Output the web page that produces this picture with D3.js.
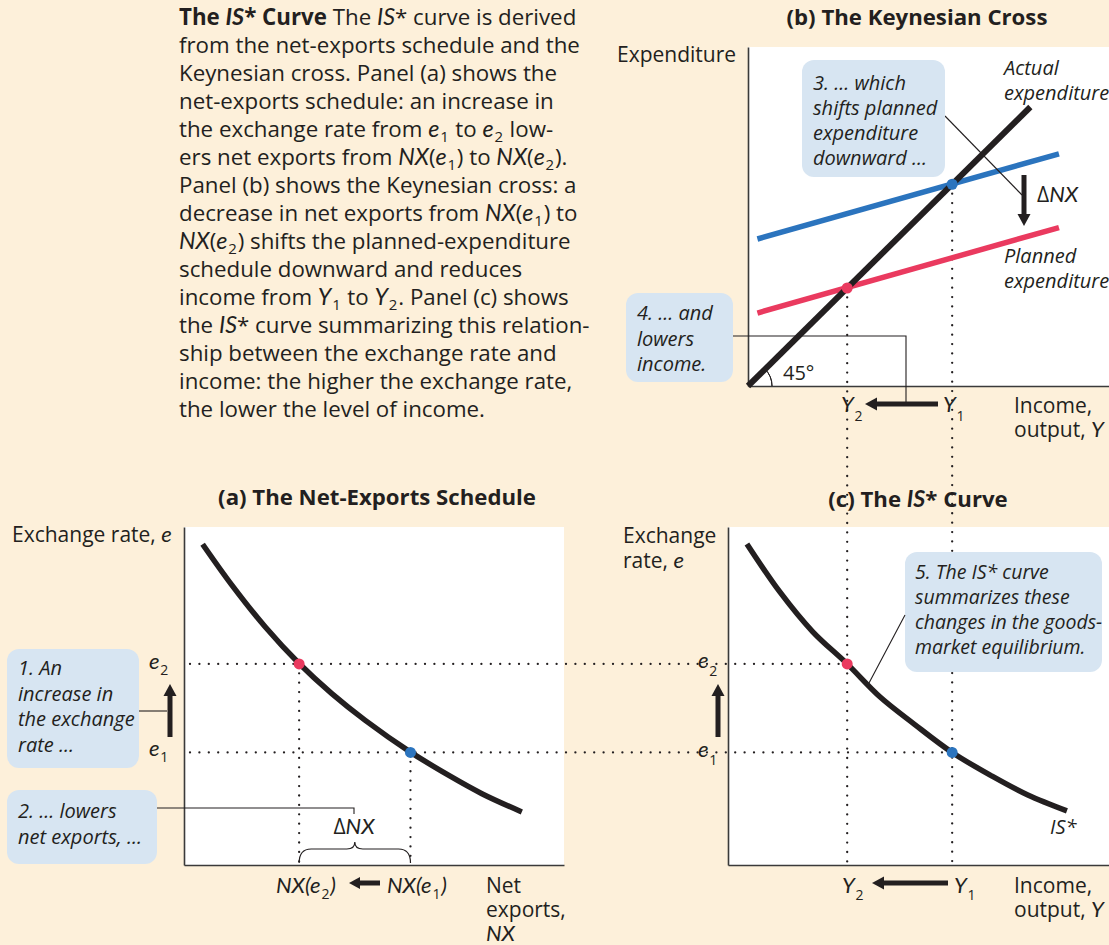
<!DOCTYPE html>
<html><head><meta charset="utf-8">
<script src="https://cdn.jsdelivr.net/npm/d3@7"></script>
<style>
body{margin:0;background:#fdf0da;}
svg{display:block;}
text{font-family:"Open Sans",sans-serif;fill:#231f20;}
</style></head><body>
<svg id="c" width="1109" height="945"></svg>
<script>
// ---------------- DATA ----------------
const e1 = 33.3, e2 = 59.5;      // exchange rates (a, c)
const nx1 = 59.6, nx2 = 30.3;    // net exports NX(e1), NX(e2)
const y1 = 56.4, y2 = 27.4;      // income Y1, Y2
// (a) net-exports schedule: [NX, e]
const nxSchedule = [[4.9,94.9],[12.6,82.8],[21.4,70.4],[30.3,59.6],[38.9,50.7],[47.7,42.8],[59.6,33.4],[69.7,26.5],[78.4,21.1],[88.9,15.7]];
// (c) IS* curve: [Y, e]
const isCurve = [[-0.3,95.0],[8.8,80.8],[17.9,69.0],[27.4,59.5],[36.5,49.7],[45.9,41.7],[56.4,33.3],[67.4,26.3],[77.3,20.7],[88.1,16.0]];
// (b) Keynesian cross: [Y, E]
const actualExp = [[0,0],[78,78]];
const plannedHigh = [[2.6,41.1],[85.9,64.9]];
const plannedLow = [[2.6,20.4],[85.9,44.3]];

const titles = {a:"(a) The Net-Exports Schedule", b:"(b) The Keynesian Cross"};
const captionLines = [
  [["The ","b"],["IS","bi"],["* Curve","b"],[" The ",""],["IS","i"],["* curve is derived",""]],
  [["from the net-exports schedule and the",""]],
  [["Keynesian cross. Panel (a) shows the",""]],
  [["net-exports schedule: an increase in",""]],
  [["the exchange rate from ",""],["e","i"],["1","s"],[" to ",""],["e","i"],["2","s"],[" low-",""]],
  [["ers net exports from ",""],["NX","i"],["(",""],["e","i"],["1","s"],[") to ",""],["NX","i"],["(",""],["e","i"],["2","s"],[").",""]],
  [["Panel (b) shows the Keynesian cross: a",""]],
  [["decrease in net exports from ",""],["NX","i"],["(",""],["e","i"],["1","s"],[") to",""]],
  [["NX","i"],["(",""],["e","i"],["2","s"],[") shifts the planned-expenditure",""]],
  [["schedule downward and reduces",""]],
  [["income from ",""],["Y","i"],["1","s"],[" to ",""],["Y","i"],["2","s"],[". Panel (c) shows",""]],
  [["the ",""],["IS","i"],["* curve summarizing this relation-",""]],
  [["ship between the exchange rate and",""]],
  [["income: the higher the exchange rate,",""]],
  [["the lower the level of income.",""]]
];
const box1 = ["1. An","increase in","the exchange","rate ..."];
const box2 = ["2. ... lowers","net exports, ..."];
const box3 = ["3. ... which","shifts planned","expenditure","downward ..."];
const box4 = ["4. ... and","lowers","income."];
const box5 = ["5. The IS* curve","summarizes these","changes in the goods-","market equilibrium."];

// ---------------- SCALES ----------------
const xA = d3.scaleLinear([0,100],[184,564]);     // net exports (a)
const yE = d3.scaleLinear([0,100],[865,527]);     // exchange rate (a, c)
const xY = d3.scaleLinear([0,100],[748,1110]);    // income (b, c)
const yB = d3.scaleLinear([0,100],[386,28.3]);    // expenditure (b)

const INK = "#231f20", RED = "#ea3a5f", BLUE = "#2b74be", BOX = "#d7e5f2";
const svg = d3.select("#c");
svg.append("rect").attr("width",1109).attr("height",945).attr("fill","#fdf0da");

// white plot areas
svg.append("rect").attr("x",xA(0)).attr("y",yE(100)).attr("width",xA(100)-xA(0)).attr("height",yE(0)-yE(100)).attr("fill","#fff");
svg.append("rect").attr("x",xY(0)).attr("y",47).attr("width",1109-xY(0)).attr("height",yB(0)-47).attr("fill","#fff");
svg.append("rect").attr("x",728).attr("y",yE(100)).attr("width",1109-728).attr("height",yE(0)-yE(100)).attr("fill","#fff");

// rich text helper
function rich(g, x, y, segs, o={}) {
  const size = o.size||21;
  const t = g.append("text").attr("x",x).attr("y",y).attr("font-size",size);
  if (o.anchor) t.attr("text-anchor",o.anchor);
  if (o.weight) t.attr("font-weight",o.weight);
  let shift = 0, prevSub = false;
  segs.forEach(([s,st]) => {
    const ts = t.append("tspan").text(s);
    const isSub = st.includes("s");
    const target = isSub ? (o.subDy||5) : 0;
    if (target !== shift) { ts.attr("dy", target-shift); shift = target; }
    if (isSub) ts.attr("dx", (o.subDx||0) + 0.8);
    else if (prevSub) ts.attr("dx", 0.8);
    prevSub = isSub;
    if (st.includes("b")) ts.attr("font-weight",700);
    if (st.includes("i")) ts.attr("font-style","italic").attr("font-family","Lato, sans-serif").attr("font-size", size+1);
    if (isSub) ts.attr("font-size", o.subSize||14);
  });
  return t;
}
function lines(g, x, y0, arr, step, o={}) {
  arr.forEach((s,i)=>{
    g.append("text").attr("x",x).attr("y",y0+i*step).text(s)
      .attr("font-family",o.family||"Lato, sans-serif").attr("font-style",o.style||"italic")
      .attr("font-size",o.size||20);
  });
}
function arrow(x1,y1,x2,y2,w=5,hl=12,hw=13){
  const a = Math.atan2(y2-y1,x2-x1), c=Math.cos(a), s=Math.sin(a);
  const bx = x2-c*hl, by = y2-s*hl;
  svg.append("line").attr("x1",x1).attr("y1",y1).attr("x2",bx+c*1).attr("y2",by+s*1)
    .attr("stroke",INK).attr("stroke-width",w);
  svg.append("path").attr("d",`M${x2},${y2}L${bx-s*hw/2},${by+c*hw/2}L${bx+s*hw/2},${by-c*hw/2}Z`).attr("fill",INK);
}
function conn(pts){
  svg.append("path").attr("d",d3.line()(pts)).attr("fill","none").attr("stroke",INK).attr("stroke-width",1.1);
}
function box(x,y,w,h){ svg.append("rect").attr("x",x).attr("y",y).attr("width",w).attr("height",h).attr("rx",12).attr("fill",BOX); }

// ---------------- CAPTION ----------------
const cap = svg.append("g");
captionLines.forEach((segs,i)=> rich(cap, 179, 25+i*28, segs, {size:22.3, subSize:15}));

// ---------------- TITLES ----------------
rich(svg, 917, 25, [[titles.b,""]], {anchor:"middle", weight:700, size:22.2});
rich(svg, 377, 505, [[titles.a,""]], {anchor:"middle", weight:700, size:22.2});
rich(svg, 918, 507, [["(c) The ","b"],["IS","bi"],["* Curve","b"]], {anchor:"middle", weight:700, size:22.2});

// ---------------- AXES ----------------
function styleAxis(g){ g.select(".domain").attr("stroke","#3a3a3a").attr("stroke-width",1.6); }
svg.append("g").attr("transform",`translate(0,${yE(0)})`).call(d3.axisBottom(xA).tickValues([]).tickSizeOuter(0)).call(styleAxis);
svg.append("g").attr("transform",`translate(${xA(0)},0)`).call(d3.axisLeft(yE).tickValues([]).tickSizeOuter(0)).call(styleAxis);
svg.append("g").attr("transform",`translate(0,${yB(0)})`).call(d3.axisBottom(xY).tickValues([]).tickSizeOuter(0)).call(styleAxis);
svg.append("g").attr("transform",`translate(${xY(0)},0)`).call(d3.axisLeft(yB.copy().domain([0,yB.invert(47)]).range([yB(0),47])).tickValues([]).tickSizeOuter(0)).call(styleAxis);
svg.append("g").attr("transform",`translate(0,${yE(0)})`).call(d3.axisBottom(xY.copy().domain([xY.invert(728),100]).range([728,1110])).tickValues([]).tickSizeOuter(0)).call(styleAxis);
svg.append("g").attr("transform",`translate(728,0)`).call(d3.axisLeft(yE).tickValues([]).tickSizeOuter(0)).call(styleAxis);

// ---------------- DOTTED GUIDES ----------------
function dotted(x1,y1,x2,y2){
  svg.append("line").attr("x1",x1).attr("y1",y1).attr("x2",x2).attr("y2",y2)
    .attr("stroke",INK).attr("stroke-width",2.3).attr("stroke-linecap","round").attr("stroke-dasharray","0 9.4");
}
dotted(190, yE(e2), xY(y2), yE(e2));
dotted(190, yE(e1), xY(y1), yE(e1));
dotted(xA(nx2), yE(e2), xA(nx2), yE(0)-3);
dotted(xA(nx1), yE(e1), xA(nx1), yE(0)-3);
dotted(xY(y2), yB(y2), xY(y2), yE(0)-3);
dotted(xY(y1), yB(y1), xY(y1), yE(0)-3);

// ---------------- CURVES ----------------
const lineA = d3.line().x(d=>xA(d[0])).y(d=>yE(d[1])).curve(d3.curveCatmullRom);
const lineC = d3.line().x(d=>xY(d[0])).y(d=>yE(d[1])).curve(d3.curveCatmullRom);
const lineB = d3.line().x(d=>xY(d[0])).y(d=>yB(d[1]));
svg.append("path").attr("d",lineA(nxSchedule)).attr("fill","none").attr("stroke",INK).attr("stroke-width",5.5);
svg.append("path").attr("d",lineC(isCurve)).attr("fill","none").attr("stroke",INK).attr("stroke-width",5.5);
svg.append("path").attr("d",lineB(plannedHigh)).attr("fill","none").attr("stroke",BLUE).attr("stroke-width",5.5);
svg.append("path").attr("d",lineB(plannedLow)).attr("fill","none").attr("stroke",RED).attr("stroke-width",5.5);
// connectors (drawn under the 45° line)
conn([[945,116],[1022,195]]);
conn([[733,336],[906,336],[906,404]]);
svg.append("path").attr("d",lineB(actualExp)).attr("fill","none").attr("stroke",INK).attr("stroke-width",6);
// 45° arc
svg.append("path").attr("transform",`translate(${xY(0)},${yB(0)})`)
  .attr("d",d3.arc().innerRadius(24).outerRadius(24).startAngle(Math.PI/4).endAngle(Math.PI/2)())
  .attr("fill","none").attr("stroke",INK).attr("stroke-width",1);

// equilibrium dots
const dot=(x,y,c)=>svg.append("circle").attr("cx",x).attr("cy",y).attr("r",5.5).attr("fill",c);
dot(xA(nx2),yE(e2),RED); dot(xA(nx1),yE(e1),BLUE);
dot(xY(y2),yB(y2),RED); dot(xY(y1),yB(y1),BLUE);
dot(xY(y2),yE(e2),RED); dot(xY(y1),yE(e1),BLUE);

// ---------------- BOXES ----------------
box(7,649,132,119); box(7,790,150,74); box(802,60,143,117); box(626,293,107,89); box(905,552,197,120);
lines(svg, 18, 675, box1, 25.5);
lines(svg, 18, 818, box2, 26);
lines(svg, 813, 90, box3, 25);
lines(svg, 637, 320, box4, 25.5);
lines(svg, 915, 579, box5, 25, {size:19.5});
conn([[139,711],[167,711]]);
conn([[157,808],[354,808],[354,814]]);
conn([[905,615],[869,683]]);

// ---------------- ARROWS ----------------
arrow(938,404,865,404);
arrow(1024,175,1024,226);
arrow(170,737,170,684);
arrow(718,737,718,684);
arrow(380,883,349,883,5,11,12);
arrow(948,883,872,883);

// ---------------- LABELS ----------------
rich(svg, 617, 62, [["Expenditure",""]]);
rich(svg, 12, 542, [["Exchange rate, ",""],["e","i"]]);
rich(svg, 623, 543, [["Exchange",""]]);
rich(svg, 623, 568, [["rate, ",""],["e","i"]]);
rich(svg, 1014, 413, [["Income,",""]]);
rich(svg, 1014, 437, [["output, ",""],["Y","i"]]);
rich(svg, 1014, 893, [["Income,",""]]);
rich(svg, 1014, 917, [["output, ",""],["Y","i"]]);
rich(svg, 486, 893, [["Net",""]]);
rich(svg, 486, 917, [["exports,",""]]);
rich(svg, 486, 941, [["NX","i"]]);
lines(svg, 1004, 75, ["Actual","expenditure"], 24.5);
lines(svg, 1004, 263, ["Planned","expenditure"], 25);
lines(svg, 1050, 834, ["IS*"], 0);
rich(svg, 1037, 202, [["Δ",""],["NX","i"]]);
rich(svg, 354, 834, [["Δ",""],["NX","i"]], {anchor:"middle"});
rich(svg, 783, 380, [["45°",""]], {size:20});
// tick-like labels
rich(svg, 276, 893, [["NX(e","i"],["2","s"],[")","i"]], {subDy:6});
rich(svg, 387, 893, [["NX(e","i"],["1","s"],[")","i"]], {subDy:6});
rich(svg, 149, 669, [["e","i"],["2","s"]], {subDy:6});
rich(svg, 149, 756, [["e","i"],["1","s"]], {subDy:6});
rich(svg, 698, 668, [["e","i"],["2","s"]], {subDy:8});
rich(svg, 698, 757, [["e","i"],["1","s"]], {subDy:8});
rich(svg, 842, 893, [["Y","i"],["2","s"]], {subDy:7});
rich(svg, 954, 893, [["Y","i"],["1","s"]], {subDy:7});
rich(svg, 841, 412, [["Y","i"],["2","s"]], {subDy:9});
rich(svg, 943, 412, [["Y","i"],["1","s"]], {subDy:9});

// brace under ΔNX
const bx0 = xA(nx2), bx1 = xA(nx1), bm = (bx0+bx1)/2, bt = 849, bb = 863;
svg.append("path").attr("d",
  `M${bx0},${bb} Q${bx0},${bt} ${bx0+12},${bt} L${bm-8},${bt} Q${bm},${bt} ${bm},${bt-7} Q${bm},${bt} ${bm+8},${bt} L${bx1-12},${bt} Q${bx1},${bt} ${bx1},${bb}`)
  .attr("fill","none").attr("stroke",INK).attr("stroke-width",1.2);
</script>
</body></html>
